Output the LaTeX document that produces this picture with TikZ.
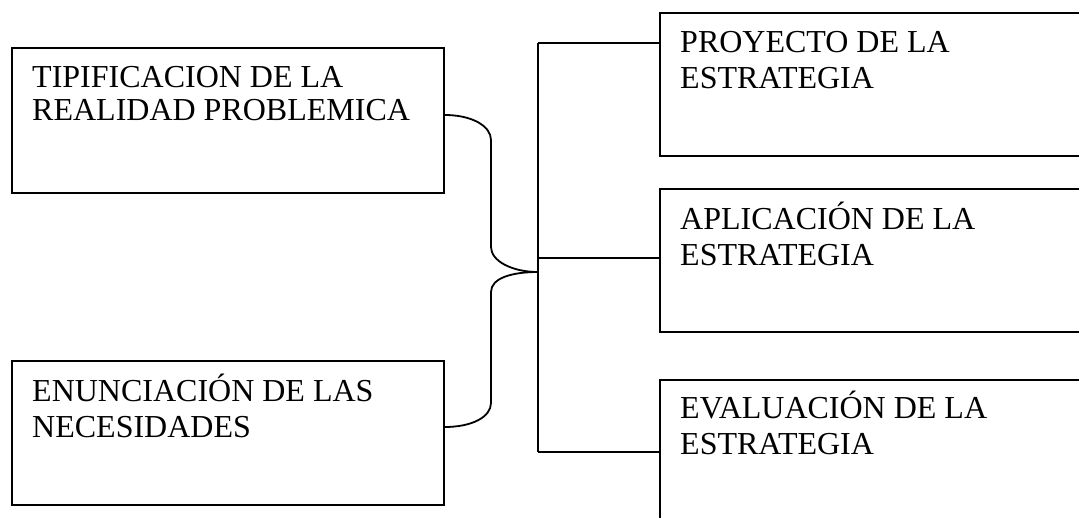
\documentclass[tikz,border=0pt]{standalone}
\usepackage{fontspec}
\setmainfont{Liberation Serif}
\usetikzlibrary{calc}
\tikzset{
  box/.style={draw=black, line width=1.8pt, rectangle, inner sep=0pt, anchor=north west},
  txt/.style={inner sep=0pt, anchor=base west, font=\fontsize{32}{36.5}\selectfont},
  conn/.style={draw=black, line width=1.8pt}
}
\begin{document}
\begin{tikzpicture}[x=1pt,y=-1pt]
\useasboundingbox (0,0) rectangle (1079,517);
\clip (0,0) rectangle (1079,517);
% left boxes
\node[box, minimum width=432pt, minimum height=145pt] (l1) at (11,47) {};
\node[box, minimum width=432pt, minimum height=144pt] (l2) at (11,360) {};
% right boxes
\node[box, minimum width=440pt, minimum height=143pt] (r1) at (659,12) {};
\node[box, minimum width=440pt, minimum height=143pt] (r2) at (659,188) {};
\node[box, minimum width=440pt, minimum height=160pt] (r3) at (659,379) {};
% texts
\node[txt] (t1) at ($(l1.north west)+(21,40)$) {\renewcommand\arraystretch{0.92}\begin{tabular}[t]{@{}l@{}}TIPIFICACION DE LA\\REALIDAD PROBLEMICA\end{tabular}};
\node[txt] (t2) at ($(l2.north west)+(21,41)$) {\begin{tabular}[t]{@{}l@{}}ENUNCIACIÓN DE LAS\\NECESIDADES\end{tabular}};
\node[txt] (t3) at ($(r1.north west)+(21,40)$) {\begin{tabular}[t]{@{}l@{}}PROYECTO DE LA\\ESTRATEGIA\end{tabular}};
\node[txt] (t4) at ($(r2.north west)+(21,41)$) {\begin{tabular}[t]{@{}l@{}}APLICACIÓN DE LA\\ESTRATEGIA\end{tabular}};
\node[txt] (t5) at ($(r3.north west)+(21,39)$) {\begin{tabular}[t]{@{}l@{}}EVALUACIÓN DE LA\\ESTRATEGIA\end{tabular}};
% connector coordinates
\coordinate (a1) at ($(l1.north east)+(0,68)$);
\coordinate (a2) at ($(l2.north east)+(0,67)$);
\coordinate (tip) at (538,272);
\coordinate (k1) at ($(r1.north west)+(0,31)$);
\coordinate (k2) at ($(r2.north west)+(0,70)$);
\coordinate (k3) at ($(r3.north west)+(0,73)$);
% brace
\draw[conn] (a1) .. controls ($(a1)+(27,0)$) and (491,126) .. (491,140)
  -- (491,247) .. controls (491,261) and (512,272) .. (tip);
\draw[conn] (tip) .. controls (512,272) and (491,278) .. (491,292)
  -- (491,403) .. controls (491,417) and ($(a2)+(27,0)$) .. (a2);
% trunk and ticks
\draw[conn] (k1 -| tip) -- (k3 -| tip);
\draw[conn] (k1 -| tip) -- (k1);
\draw[conn] (k2 -| tip) -- (k2);
\draw[conn] (k3 -| tip) -- (k3);
\end{tikzpicture}
\end{document}
